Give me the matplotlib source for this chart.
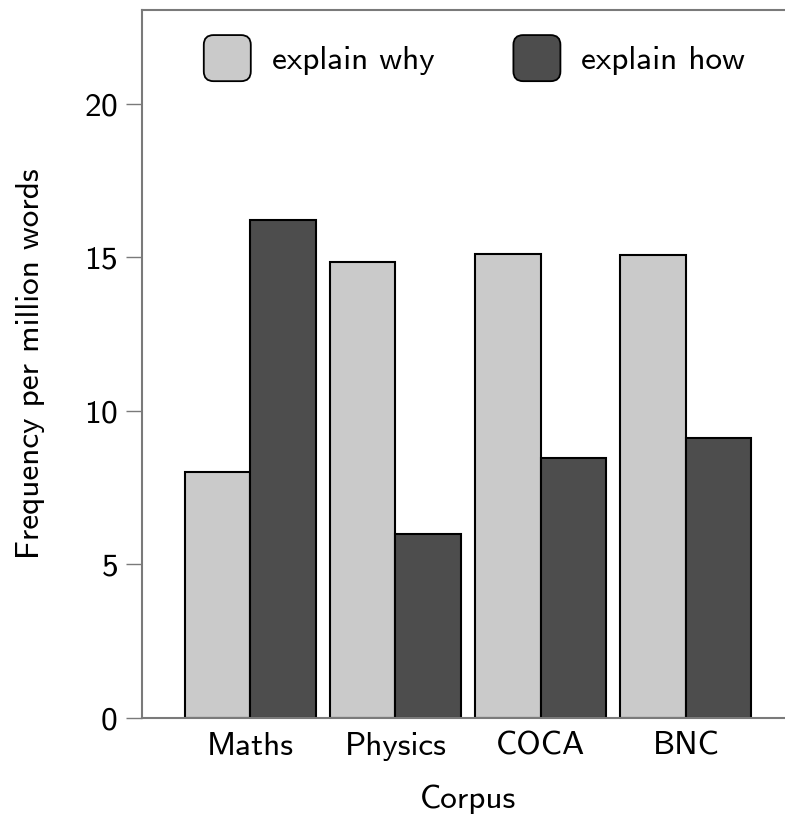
import matplotlib
matplotlib.use('Agg')
import matplotlib.pyplot as plt
import numpy as np
from matplotlib.patches import Patch, FancyBboxPatch
from matplotlib.legend_handler import HandlerPatch

# data
corpora = ['Maths', 'Physics', 'COCA', 'BNC']
explain_why = [8.0, 14.85, 15.11, 15.08]
explain_how = [16.22, 6.0, 8.47, 9.12]
series_names = ['explain why', 'explain how']

light = '#cacaca'
dark = '#4d4d4d'
spine_col = '#7a7a7a'
fs = 24

plt.rcParams['font.family'] = ['cmss10', 'DejaVu Sans']
plt.rcParams['axes.formatter.use_mathtext'] = True

fig = plt.figure(figsize=(7.85, 8.18), dpi=100)
ax = fig.add_axes([0.1809, 0.1222, 0.8306, 0.8656])

x = np.arange(len(corpora))
w = 0.45
ax.bar(x - w / 2, explain_why, width=w, color=light, edgecolor='black', linewidth=1.5, label=series_names[0])
ax.bar(x + w / 2, explain_how, width=w, color=dark, edgecolor='black', linewidth=1.5, label=series_names[1])

ax.set_xlim(-0.745, 3.745)
ax.set_ylim(0, 23.05)
ax.set_xticks(x)
ax.set_xticklabels(corpora)
ax.set_yticks([0, 5, 10, 15, 20])

ax.tick_params(axis='y', labelsize=fs, length=11.5, width=1, color=spine_col, pad=6)
ax.tick_params(axis='x', labelsize=fs, length=0, pad=10)

ax.set_xlabel('Corpus', fontsize=fs, labelpad=17)
ax.set_ylabel('Frequency per million words', fontsize=fs, labelpad=28)

for s in ['left', 'bottom', 'top']:
    ax.spines[s].set_color(spine_col)
    ax.spines[s].set_linewidth(1.5)
ax.spines['right'].set_visible(False)


def rounded_box(legend, orig_handle, xdescent, ydescent, width, height, fontsize):
    return FancyBboxPatch((-xdescent, -ydescent), width, height,
                          boxstyle='round,pad=0,rounding_size=7')


handles = [Patch(facecolor=light, edgecolor='black', linewidth=1.3),
           Patch(facecolor=dark, edgecolor='black', linewidth=1.3)]
ax.legend(handles, series_names, loc='center', bbox_to_anchor=(0.51, 0.932),
          ncol=2, frameon=False, fontsize=fs, handlelength=1.41, handleheight=1.75,
          handletextpad=0.63, columnspacing=2.37, borderpad=0,
          handler_map={Patch: HandlerPatch(patch_func=rounded_box)})

fig.savefig('out.png', dpi=100)
